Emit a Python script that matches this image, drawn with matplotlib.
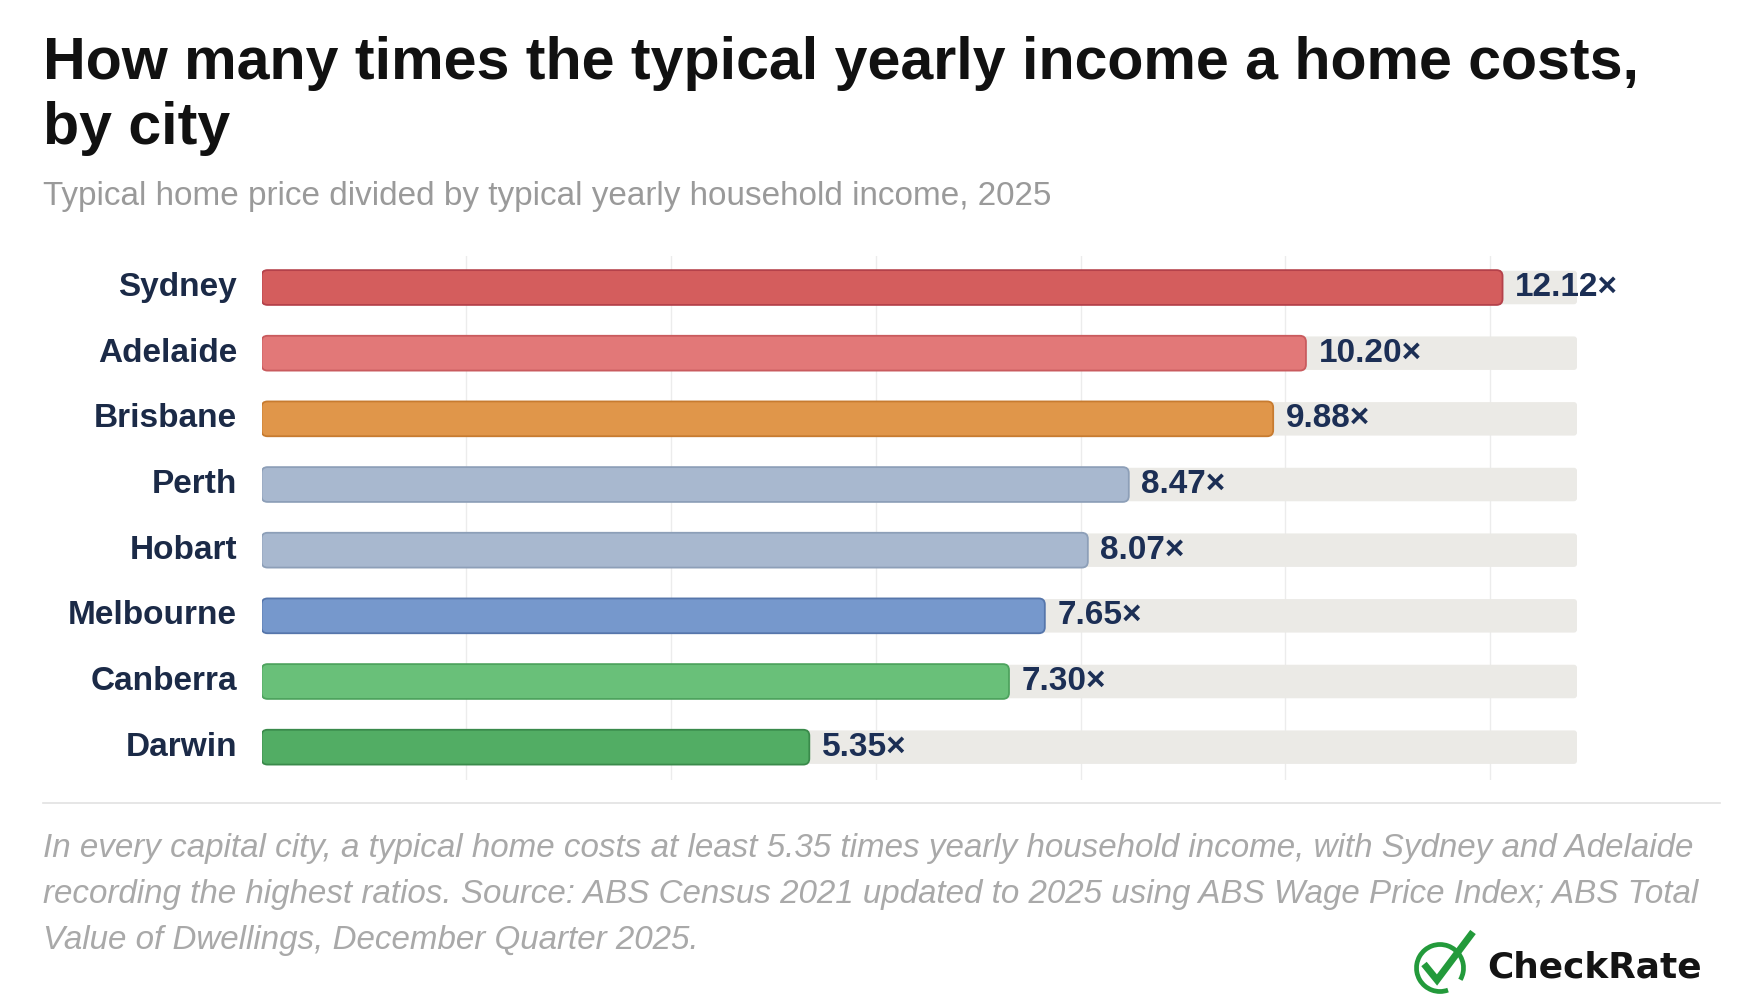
import matplotlib
matplotlib.use("Agg")
import matplotlib.pyplot as plt
from matplotlib.patches import FancyBboxPatch, Arc

plt.rcParams["font.family"] = ["Liberation Sans", "DejaVu Sans"]

# ── data ────────────────────────────────────────────────────────────────
cities = ["Sydney", "Adelaide", "Brisbane", "Perth", "Hobart", "Melbourne", "Canberra", "Darwin"]
ratios = [12.12, 10.20, 9.88, 8.47, 8.07, 7.65, 7.30, 5.35]
fills = ["#d45d5d", "#e27878", "#e0964a", "#a8b8cf", "#a8b8cf", "#7698cc", "#69c079", "#52ad64"]
edges = ["#b4414a", "#c95b5e", "#c77b30", "#8d9fb8", "#8d9fb8", "#5676ab", "#4ea35e", "#3a8a4b"]
grid_ticks = [2, 4, 6, 8, 10, 12]

TITLE = ["How many times the typical yearly income a home costs,", "by city"]
SUBTITLE = "Typical home price divided by typical yearly household income, 2025"
NOTE = ["In every capital city, a typical home costs at least 5.35 times yearly household income, with Sydney and Adelaide",
        "recording the highest ratios. Source: ABS Census 2021 updated to 2025 using ABS Wage Price Index; ABS Total",
        "Value of Dwellings, December Quarter 2025."]

W, H = 1760, 1000
fig = plt.figure(figsize=(W / 100, H / 100), dpi=100, facecolor="white")

# ── bar panel ───────────────────────────────────────────────────────────
ax_l, ax_r, ax_t, ax_b = 261.5, 1577, 256, 780
ax = fig.add_axes([ax_l / W, 1 - ax_b / H, (ax_r - ax_l) / W, (ax_b - ax_t) / H])
xmax = max(ratios) * 1.06
ax.set_xlim(0, xmax)
ax.set_ylim(len(cities) - 0.5, -0.48)
bar_h = 0.53

px_x = (ax_r - ax_l) / xmax          # pixels per x unit
px_y = (ax_b - ax_t) / (len(cities) - 0.5 + 0.48)
aspect = px_x / px_y

for i, (v, fc, ec) in enumerate(zip(ratios, fills, edges)):
    track = FancyBboxPatch((0, i - bar_h / 2 + 0.01), xmax, bar_h - 0.02,
                           boxstyle=f"round,pad=0,rounding_size={3 / px_x}",
                           mutation_aspect=aspect, fc="#ebeae6", ec="none", zorder=1)
    ax.add_patch(track)
    bar = FancyBboxPatch((0, i - bar_h / 2), v, bar_h,
                         boxstyle=f"round,pad=0,rounding_size={6 / px_x}",
                         mutation_aspect=aspect, fc=fc, ec=ec, lw=1.3, zorder=2)
    ax.add_patch(bar)
    ax.annotate(f"{v:.2f}×", (v, i), xytext=(9, 0), textcoords="offset points",
                va="center", ha="left", fontsize=24, fontweight="bold",
                color="#1c2f55", zorder=3)

ax.set_yticks(range(len(cities)))
ax.set_yticklabels(cities, fontsize=24, fontweight="bold", color="#1b2a47", va="center")
ax.tick_params(axis="y", length=0, pad=17.5)
ax.set_xticks(grid_ticks)
ax.tick_params(axis="x", length=0, labelbottom=False)
ax.grid(axis="x", color="#ececec", lw=1)
ax.set_axisbelow(True)
for s in ax.spines.values():
    s.set_visible(False)

# ── titles & notes ──────────────────────────────────────────────────────
fig.text(42.6 / W, 1 - 78.6 / H, TITLE[0], fontsize=42.6, fontweight="bold", color="#111111", va="baseline")
fig.text(42.6 / W, 1 - 143.7 / H, TITLE[1], fontsize=42.6, fontweight="bold", color="#111111", va="baseline")
fig.text(42.6 / W, 1 - 205.4 / H, SUBTITLE, fontsize=23.95, color="#9a9a9a", va="baseline")
for k, line in enumerate(NOTE):
    fig.text(42.6 / W, 1 - (857.5 + 46 * k) / H, line, fontsize=23.9, style="italic",
             color="#a9a9a9", va="baseline")

# overlay in pixel coords for separator and logo
ov = fig.add_axes([0, 0, 1, 1], zorder=-1)
ov.set_xlim(0, W)
ov.set_ylim(H, 0)
ov.axis("off")
ov.plot([42.6, 1719.5], [802.5, 802.5], color="#e2e2e2", lw=1.2)

cx, cy, r = 1440, 968, 23.5
ov.add_patch(Arc((cx, cy), 2 * r, 2 * r, theta1=70, theta2=30, color="#239a3b", lw=3.4))
ov.plot([1424, 1437, 1473], [964, 980, 932], color="#239a3b", lw=5,
        solid_capstyle="butt", solid_joinstyle="miter")
ov.text(1487, 968, "CheckRate", fontsize=25.8, fontweight="bold", family="DejaVu Sans",
        color="#141414", va="center", ha="left")

fig.savefig("out.png", dpi=100, facecolor="white")
